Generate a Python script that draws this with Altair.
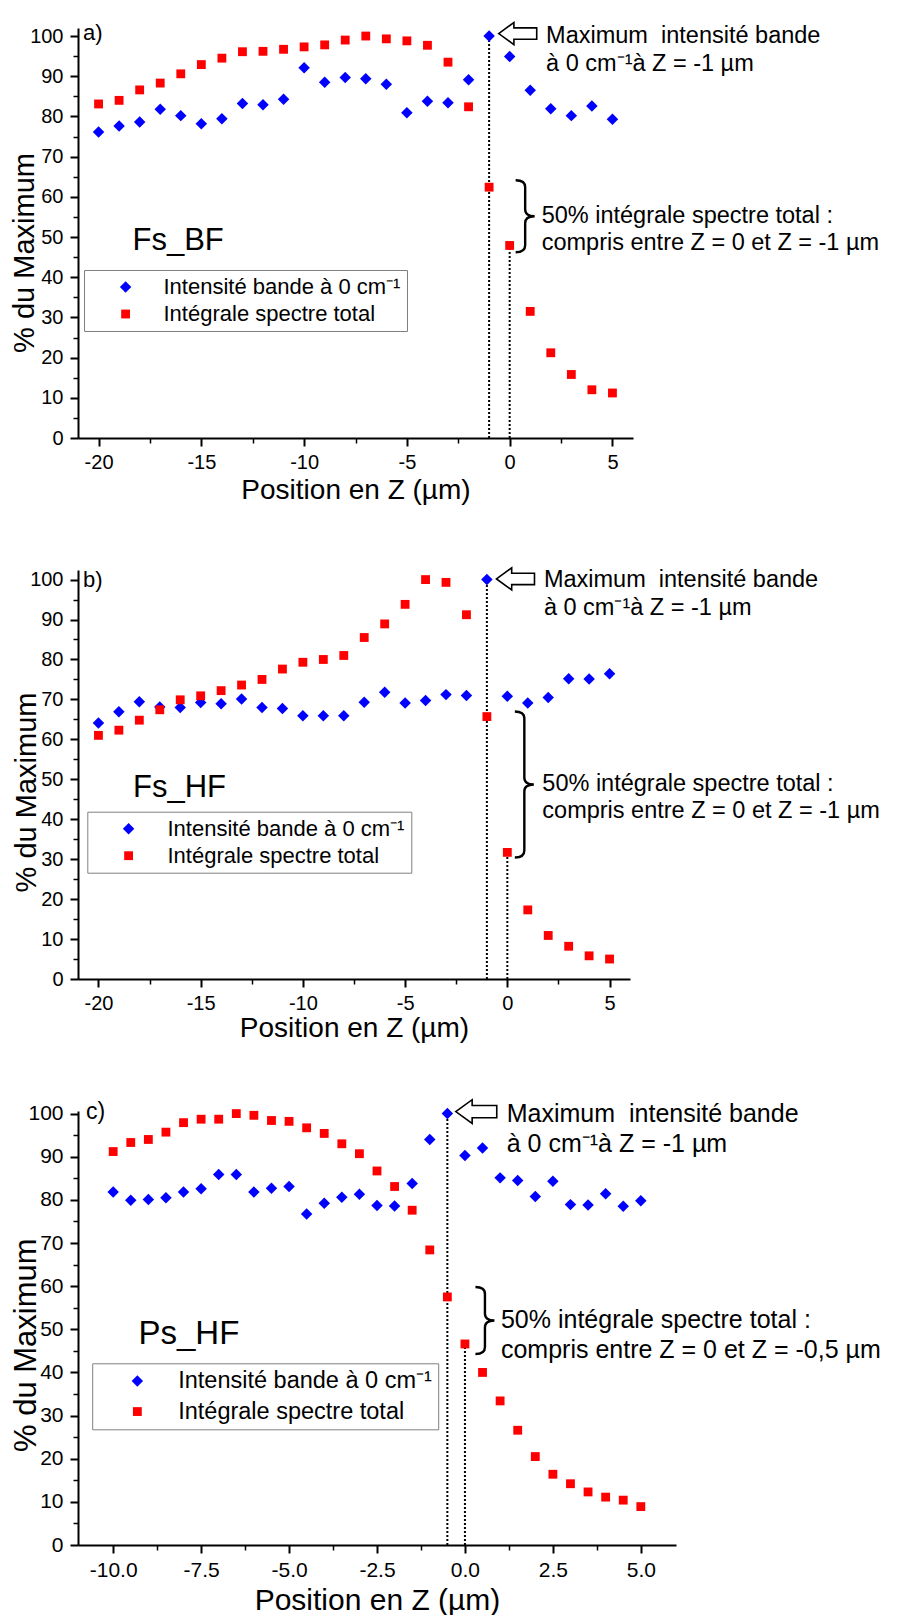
import altair as alt
import pandas as pd

FONT = "Liberation Sans"
LBL_BLUE = "Intensité bande à 0 cm⁻¹"
LBL_RED = "Intégrale spectre total"
TITLE_X = "Position en Z (µm)"
TITLE_Y = "% du Maximum"

# ---------------- data: panel a) Fs_BF ----------------
a_z = [-20, -19, -18, -17, -16, -15, -14, -13, -12, -11,
       -10, -9, -8, -7, -6, -5, -4, -3, -2, -1,
       0, 1, 2, 3, 4, 5]
a_blue = [76.1, 77.6, 78.6, 81.8, 80.2, 78.2, 79.4, 83.2, 82.9, 84.3,
          92.1, 88.5, 89.7, 89.4, 88.0, 80.9, 83.8, 83.4, 89.1, 100.0,
          94.9, 86.5, 81.9, 80.2, 82.6, 79.3]
a_red = [83.1, 84.0, 86.6, 88.3, 90.6, 92.9, 94.5, 96.1, 96.2, 96.7,
         97.3, 97.8, 99.0, 100.0, 99.3, 98.8, 97.7, 93.5, 82.4, 62.4,
         47.9, 31.5, 21.2, 15.8, 12.0, 11.2]

# ---------------- data: panel b) Fs_HF ----------------
b_z = [-20, -19, -18, -17, -16, -15, -14, -13, -12, -11,
       -10, -9, -8, -7, -6, -5, -4, -3, -2, -1,
       0, 1, 2, 3, 4, 5]
b_blue = [64.1, 66.9, 69.4, 68.1, 68.0, 69.2, 68.9, 70.1, 68.0, 67.7,
          65.9, 65.9, 65.9, 69.3, 71.8, 69.1, 69.7, 71.2, 71.0, 100.0,
          70.8, 69.1, 70.5, 75.2, 75.1, 76.4]
b_red = [61.0, 62.3, 64.8, 67.4, 69.9, 70.9, 72.2, 73.6, 75.0, 77.6,
         79.3, 80.0, 81.0, 85.5, 88.9, 93.8, 100.0, 99.3, 91.2, 65.7,
         31.7, 17.3, 10.9, 8.2, 5.8, 5.0]

# ---------------- data: panel c) Ps_HF ----------------
c_z = [-10.0, -9.5, -9.0, -8.5, -8.0, -7.5, -7.0, -6.5, -6.0, -5.5,
       -5.0, -4.5, -4.0, -3.5, -3.0, -2.5, -2.0, -1.5, -1.0, -0.5,
       0.0, 0.5, 1.0, 1.5, 2.0, 2.5, 3.0, 3.5, 4.0, 4.5, 5.0]
c_blue = [81.8, 79.9, 80.1, 80.5, 81.8, 82.6, 85.9, 85.9, 81.8, 82.7,
          83.1, 76.7, 79.2, 80.6, 81.3, 78.7, 78.6, 83.8, 94.0, 100.0,
          90.3, 92.0, 85.1, 84.5, 80.8, 84.3, 78.9, 78.8, 81.4, 78.5, 79.8]
c_red = [91.2, 93.3, 94.0, 95.7, 97.9, 98.7, 98.7, 100.0, 99.6, 98.4,
         98.2, 96.7, 95.4, 93.0, 90.7, 86.7, 83.1, 77.6, 68.4, 57.5,
         46.6, 40.0, 33.4, 26.6, 20.5, 16.4, 14.2, 12.3, 11.1, 10.4, 8.9]

# ---------------- tick values / labels ----------------
ab_xticks = [-20, -15, -10, -5, 0, 5]
ab_xminor = [-17.5, -12.5, -7.5, -2.5, 2.5]
c_xticks = [-10.0, -7.5, -5.0, -2.5, 0.0, 2.5, 5.0]
c_xminor = [-8.75, -6.25, -3.75, -1.25, 1.25, 3.75]
yticks = [0, 10, 20, 30, 40, 50, 60, 70, 80, 90, 100]
yminor = [5, 15, 25, 35, 45, 55, 65, 75, 85, 95]

note_max = ["Maximum\u00a0 intensité bande", "à 0 cm⁻¹à Z = -1 µm"]
ab_note_half = ["50% intégrale spectre total :", "\u00a0compris entre Z = 0 et Z = -1 µm"]
c_note_half = ["50% intégrale spectre total :", "\u00a0compris entre Z = 0 et Z = -0,5 µm"]

DIAMOND = "M -1.3 0 L 0 -1.3 L 1.3 0 L 0 1.3 Z"
ARROW = "M -1 0 L -0.2 -0.58 L -0.2 -0.3 L 1 -0.3 L 1 0.3 L -0.2 0.3 L -0.2 0.58 Z"
HYPHEN_EXPR = "replace(datum.label, '\u2212', '-')"


def brace_path(h, w, hook=7.0):
    r = h / 2.0
    hw = (w / 2.0) / r
    k = hook / r
    return (f"M {-hw:.4f} -1 Q 0 -1 0 {-1 + k:.4f} L 0 {-k:.4f} Q 0 0 {hw:.4f} 0 "
            f"Q 0 0 0 {k:.4f} L 0 {1 - k:.4f} Q 0 1 {-hw:.4f} 1")


def panel(z, blue, red, c):
    n = len(z)
    pts = pd.DataFrame({"z": z + z, "v": blue + red,
                        "serie": [LBL_BLUE] * n + [LBL_RED] * n})
    imax = max(range(n), key=lambda i: blue[i])
    i0 = z.index(0)
    zmax, vmax = z[imax], blue[imax]
    rules = pd.DataFrame({"z": [zmax, z[i0]], "v0": [0, 0], "v1": [vmax, red[i0]]})
    peak = pd.DataFrame({"z": [zmax], "v": [vmax]})
    half = pd.DataFrame({"z": [z[i0]], "v": [(red[imax] + red[i0]) / 2.0]})
    corner = pd.DataFrame({"z": [c["xdom"][0]], "v": [100]})
    name = pd.DataFrame({"z": [c["name_z"]], "v": [c["name_v"]]})

    xs = alt.Scale(domain=c["xdom"], nice=False, zero=False)
    ys = alt.Scale(domain=c["ydom"], nice=False, zero=False)

    def xn():
        return alt.X("z:Q", scale=xs, axis=None)

    def yn(f="v:Q"):
        return alt.Y(f, scale=ys, axis=None)

    leg = alt.Legend(title=None, orient="none", legendX=c["legX"], legendY=c["legY"],
                     direction="vertical", strokeColor="#808080", fillColor="white",
                     padding=6, symbolOffset=c["symOff"], labelOffset=c["labOff"],
                     rowPadding=c["rowPad"], labelFont=FONT, labelFontSize=c["legFont"],
                     labelColor="black", labelLimit=600, symbolSize=78, symbolStrokeWidth=0)

    xaxis = alt.Axis(orient="bottom", values=c["xticks"], format=c["xfmt"],
                     labelExpr=HYPHEN_EXPR, title=TITLE_X,
                     titleFont=FONT, titleFontSize=c["xt_fs"], titleFontWeight="normal",
                     titleX=c["w"] / 2.0, titleY=c["xt_y"], titleBaseline="alphabetic",
                     titleAlign="center", labelFont=FONT, labelFontSize=c["lab_fs"],
                     labelPadding=6, tickSize=8, tickWidth=2, domainWidth=2,
                     labelOverlap=False, grid=False)
    yaxis = alt.Axis(orient="left", values=yticks, format="d", title=TITLE_Y,
                     titleFont=FONT, titleFontSize=c["yt_fs"], titleFontWeight="normal",
                     titleX=c["yt_x"], titleY=c["yt_y"], titleAngle=270,
                     titleBaseline="alphabetic", titleAlign="center",
                     labelFont=FONT, labelFontSize=c["lab_fs"], labelPadding=7,
                     tickSize=8, tickWidth=2, domainWidth=2, labelOverlap=False, grid=False)
    xminor = alt.Axis(orient="bottom", values=c["xminor"], labels=False, domain=False,
                      tickSize=5, tickWidth=1.5, title=None, grid=False)
    yminor_ax = alt.Axis(orient="left", values=yminor, labels=False, domain=False,
                         tickSize=5, tickWidth=1.5, title=None, grid=False)

    minor_layer = alt.Chart(pts).mark_point(opacity=0).encode(
        x=alt.X("z:Q", scale=xs, axis=xminor),
        y=alt.Y("v:Q", scale=ys, axis=yminor_ax),
    )
    rule_layer = alt.Chart(rules).mark_rule(color="black", strokeWidth=2,
                                            strokeDash=[2, 2]).encode(
        x=xn(), y=yn("v0:Q"), y2="v1:Q")
    point_layer = alt.Chart(pts).mark_point(filled=True, opacity=1, size=78,
                                            strokeWidth=0).encode(
        x=alt.X("z:Q", scale=xs, axis=xaxis),
        y=alt.Y("v:Q", scale=ys, axis=yaxis),
        color=alt.Color("serie:N", scale=alt.Scale(domain=[LBL_BLUE, LBL_RED],
                                                   range=["#0000ff", "#ff0000"]), legend=leg),
        shape=alt.Shape("serie:N", scale=alt.Scale(domain=[LBL_BLUE, LBL_RED],
                                                   range=[DIAMOND, "square"]), legend=leg),
    )
    arrow_layer = alt.Chart(peak).mark_point(shape=ARROW, filled=False, color="black",
                                             opacity=1, strokeWidth=1.6, size=c["arrow_size"],
                                             xOffset=c["arrow_dx"], yOffset=c["arrow_dy"]).encode(
        x=xn(), y=yn())
    max_text = alt.Chart(peak).mark_text(align="left", baseline="middle", dx=c["max_dx"],
                                         font=FONT, fontSize=c["note_fs"],
                                         lineHeight=c["note_lh"], color="black").encode(
        x=xn(), y=yn(), text=alt.value(note_max))
    brace_layer = alt.Chart(half).mark_point(shape=brace_path(c["brace_h"], 19), filled=False,
                                             color="black", opacity=1, strokeWidth=2.4,
                                             size=c["brace_h"] ** 2,
                                             xOffset=c["brace_dx"]).encode(x=xn(), y=yn())
    half_text = alt.Chart(half).mark_text(align="left", baseline="middle", dx=c["half_dx"],
                                          font=FONT, fontSize=c["note_fs"],
                                          lineHeight=c["half_lh"], color="black").encode(
        x=xn(), y=yn(), text=alt.value(c["note_half"]))
    letter = alt.Chart(corner).mark_text(align="left", baseline="middle", dx=c["let_dx"],
                                         dy=c["let_dy"], font=FONT, fontSize=c["let_fs"],
                                         color="black").encode(
        x=xn(), y=yn(), text=alt.value(c["letter"]))
    name_layer = alt.Chart(name).mark_text(align="left", baseline="middle", font=FONT,
                                           fontSize=c["name_fs"], color="black").encode(
        x=xn(), y=yn(), text=alt.value(c["name"]))

    return alt.layer(minor_layer, rule_layer, point_layer, arrow_layer, max_text,
                     brace_layer, half_text, letter, name_layer).resolve_axis(
        x="independent", y="independent").properties(width=c["w"], height=c["h"])


cfg_a = dict(xdom=[-21, 6], w=555, ydom=[0, 102], h=410, xticks=ab_xticks, xminor=ab_xminor,
             xfmt="d", legX=6, legY=242, symOff=24.6, labOff=26.9, rowPad=5, legFont=22,
             xt_fs=28, xt_y=60, yt_fs=29, yt_x=-45, yt_y=224.5, lab_fs=20,
             arrow_size=1444, arrow_dx=28.6, arrow_dy=-2.5, max_dx=57, note_fs=23.5,
             note_lh=28, brace_h=72, brace_dx=15.5, half_dx=32, half_lh=27,
             note_half=ab_note_half, let_dx=5, let_dy=-3, let_fs=22, letter="a)",
             name="Fs_BF", name_z=-18.35, name_v=48.9, name_fs=31)
cfg_b = dict(xdom=[-21, 6], w=552, ydom=[0, 102.4], h=409, xticks=ab_xticks, xminor=ab_xminor,
             xfmt="d", legX=9.3, legY=241.7, symOff=24.3, labOff=27.9, rowPad=5, legFont=22,
             xt_fs=28, xt_y=57.5, yt_fs=29, yt_x=-43, yt_y=222, lab_fs=20,
             arrow_size=1444, arrow_dx=28.6, arrow_dy=-0.7, max_dx=57, note_fs=23.5,
             note_lh=28, brace_h=146, brace_dx=17, half_dx=35, half_lh=27,
             note_half=ab_note_half, let_dx=5, let_dy=0, let_fs=22, letter="b)",
             name="Fs_HF", name_z=-18.31, name_v=47.8, name_fs=31)
cfg_c = dict(xdom=[-11, 6], w=598, ydom=[0, 100.6], h=434, xticks=c_xticks, xminor=c_xminor,
             xfmt=".1f", legX=14.2, legY=252.3, symOff=27.4, labOff=29.1, rowPad=5.5,
             legFont=23.5, xt_fs=30, xt_y=64, yt_fs=31, yt_x=-43, yt_y=233.7, lab_fs=21,
             arrow_size=1681, arrow_dx=28.9, arrow_dy=-2, max_dx=59.4, note_fs=25,
             note_lh=30, brace_h=67, brace_dx=20, half_dx=36, half_lh=30,
             note_half=c_note_half, let_dx=8, let_dy=-1.6, let_fs=23, letter="c)",
             name="Ps_HF", name_z=-9.28, name_v=49.0, name_fs=33)

pa = panel(a_z, a_blue, a_red, cfg_a)
pb = panel(b_z, b_blue, b_red, cfg_b)
pc = panel(c_z, c_blue, c_red, cfg_c)

chart = alt.vconcat(pa, pb, pc, spacing=132, bounds="flush").resolve_scale(
    x="independent", y="independent", color="independent", shape="independent"
).properties(
    padding={"left": 1, "top": 10, "right": 2, "bottom": 2}
).configure_view(stroke="transparent").configure_axis(
    domainColor="black", tickColor="black", labelColor="black", titleColor="black"
)

chart.save("out.html", embed_options={"renderer": "svg", "actions": False})
